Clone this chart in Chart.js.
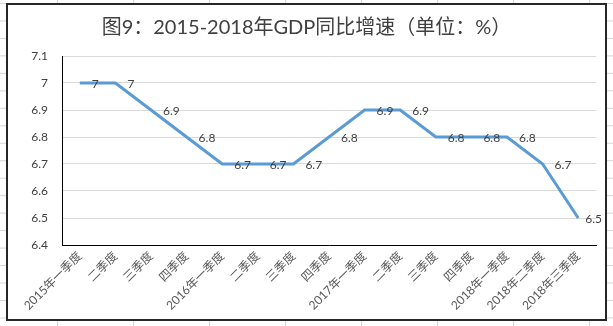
<!DOCTYPE html>
<html>
<head>
<meta charset="utf-8">
<script src="https://cdn.jsdelivr.net/npm/chart.js@4/dist/chart.umd.min.js"></script>
<style>
  html, body { margin: 0; padding: 0; }
  body {
    width: 613px; height: 326px; overflow: hidden; position: relative;
    background-color: #ffffff;
    background-image:
      linear-gradient(to right, #d4d4d4 1px, transparent 1px),
      linear-gradient(to bottom, #d4d4d4 1px, transparent 1px);
    background-size: 76px 17.47px;
    background-position: 57px 3px;
  }
  #box {
    position: absolute; left: 6px; top: 3px; width: 601px; height: 318px;
    box-sizing: border-box; border: 2px solid #262626; background: #ffffff;
  }
  #c { display: block; }
</style>
</head>
<body>
<div id="box"><canvas id="c" width="597" height="314"></canvas></div>
<script>
const titleText = '图9：2015-2018年GDP同比增速（单位：%）';
const categories = ['2015年一季度','二季度','三季度','四季度','2016年一季度','二季度','三季度','四季度','2017年一季度','二季度','三季度','四季度','2018年一季度','2018年二季度','2018年三季度'];
const gdpGrowth = [7, 7, 6.9, 6.8, 6.7, 6.7, 6.7, 6.8, 6.9, 6.9, 6.8, 6.8, 6.8, 6.7, 6.5];
const yMin = 6.4, yMax = 7.1, yStep = 0.1;

const FONT = "Lato, 'Noto Sans CJK SC', sans-serif";

const labelPlugin = {
  id: 'pointLabels',
  afterDatasetsDraw(chart) {
    const ctx = chart.ctx;
    const meta = chart.getDatasetMeta(0);
    ctx.save();
    ctx.font = '12px ' + FONT;
    ctx.fillStyle = '#404040';
    ctx.textAlign = 'left';
    ctx.textBaseline = 'middle';
    meta.data.forEach((pt, i) => {
      const txt = String(gdpGrowth[i]);
      const w = ctx.measureText(txt).width;
      let x = pt.x + 12;
      if (x + w > chart.width - 3) x = chart.width - 3 - w;
      ctx.fillText(txt, x, pt.y + 1);
    });
    ctx.restore();
  }
};

new Chart(document.getElementById('c'), {
  type: 'line',
  data: {
    labels: categories,
    datasets: [{
      data: gdpGrowth,
      borderColor: '#5B9BD5',
      borderWidth: 3,
      pointRadius: 0,
      pointHoverRadius: 0,
      tension: 0,
      fill: false
    }]
  },
  options: {
    responsive: false,
    animation: false,
    devicePixelRatio: 1,
    layout: { padding: { left: 9, right: 9, top: 0, bottom: 0 } },
    plugins: {
      legend: { display: false },
      tooltip: { enabled: false },
      title: {
        display: true,
        text: titleText,
        color: '#404040',
        font: { family: FONT, size: 20, weight: 'normal' },
        padding: { top: 11, bottom: 16 }
      }
    },
    scales: {
      x: {
        offset: true,
        grid: { display: false, drawTicks: false },
        border: { display: true, color: '#000000', width: 1 },
        ticks: {
          color: '#595959',
          font: { family: FONT, size: 12 },
          minRotation: 45, maxRotation: 45,
          autoSkip: false,
          padding: 4
        },
        afterFit(s) { s.height = 74; }
      },
      y: {
        min: yMin, max: yMax,
        grid: { color: '#d9d9d9', lineWidth: 1, drawTicks: false },
        border: { display: true, color: '#000000', width: 1 },
        ticks: {
          stepSize: yStep,
          color: '#404040',
          font: { family: FONT, size: 12 },
          padding: 14,
          callback: v => String(Number(Number(v).toFixed(1)))
        },
        afterFit(s) { s.width = 45; }
      }
    }
  },
  plugins: [labelPlugin]
});
</script>
</body>
</html>
